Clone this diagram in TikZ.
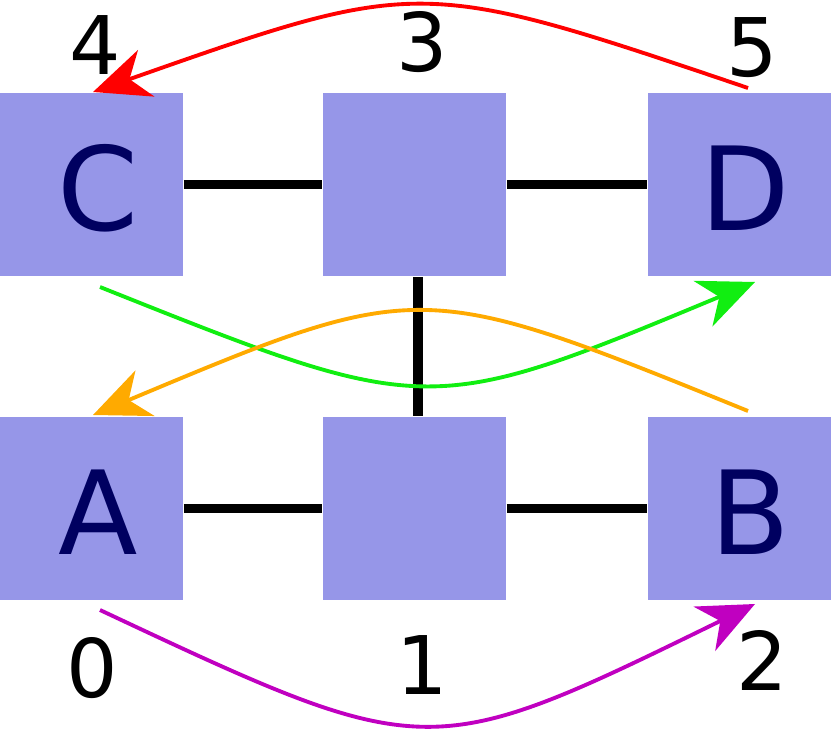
\documentclass[tikz,border=0pt]{standalone}
\usepackage{fontspec}
\setmainfont{DejaVu Sans}
\usetikzlibrary{arrows.meta}
\definecolor{boxblue}{HTML}{9696E8}
\definecolor{navy}{HTML}{000060}
\definecolor{myorange}{HTML}{FFAA00}
\definecolor{mymagenta}{HTML}{C000C0}
\definecolor{mygreen}{HTML}{11EE11}
\tikzset{
  cell/.style={fill=boxblue, minimum size=1.83cm, inner sep=0pt},
  letter/.style={text=navy, font=\fontsize{33}{33}\selectfont},
  num/.style={font=\fontsize{23}{23}\selectfont},
  link/.style={line width=2.8pt},
  hop/.style={line width=1.1pt, -{Stealth[length=16pt,width=14pt,inset=5pt]}}
}
\begin{document}
\begin{tikzpicture}[x=0.01cm,y=-0.01cm]
		\useasboundingbox (0,0) rectangle (831,731);
		% cells
		\node[cell] (c) at (91.5,184.5) {};
		\node[cell] (t) at (414.5,184.5) {};
		\node[cell] (d) at (739.5,184.5) {};
		\node[cell] (a) at (91.5,508.5) {};
		\node[cell] (m) at (414.5,508.5) {};
		\node[cell] (b) at (739.5,508.5) {};
		\node[letter] at (98,188) {C};
		\node[letter] at (745,188) {D};
		\node[letter] at (98,512) {A};
		\node[letter] at (750,512) {B};
		% numbers
		\node[num] at (95,45) {4};
		\node[num] at (422,42) {3};
		\node[num] at (752,48) {5};
		\node[num] at (92,668) {0};
		\node[num] at (422,665) {1};
		\node[num] at (762,660) {2};
		% links
		\draw[link] (c.east) -- (t.west);
		\draw[link] (t.east) -- (d.west);
		\draw[link] (a.east) -- (m.west);
		\draw[link] (m.east) -- (b.west);
		\draw[link] ([xshift=0.035cm]t.south) -- ([xshift=0.035cm]m.north);
		% arrow ends
		\coordinate (r1) at (748,88);  \coordinate (r2) at (93,92);
		\coordinate (g1) at (100,287); \coordinate (g2) at (755,282);
		\coordinate (o1) at (748,411); \coordinate (o2) at (93,415);
		\coordinate (p1) at (100,610); \coordinate (p2) at (755,604);
		\draw[hop, red] (r1) .. controls (420,-23) .. (r2);
		\draw[hop, mygreen] (g1) .. controls (428,418) .. (g2);
		\draw[hop, myorange] (o1) .. controls (420,278) .. (o2);
		\draw[hop, mymagenta] (p1) .. controls (428,764) .. (p2);
\end{tikzpicture}
\end{document}
